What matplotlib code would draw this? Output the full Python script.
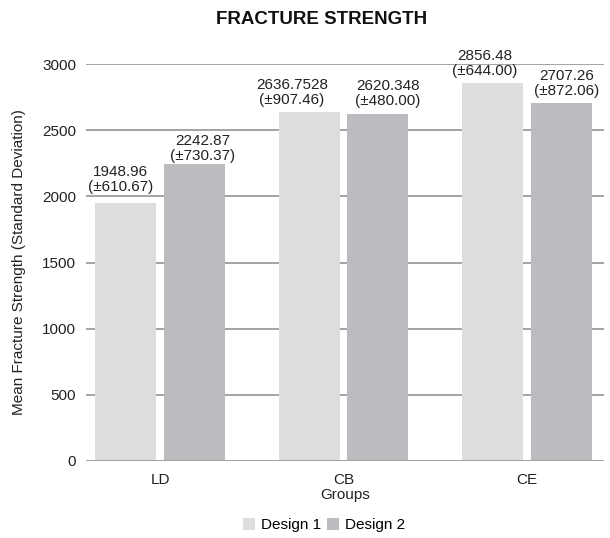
import matplotlib.pyplot as plt
import numpy as np

plt.rcParams['font.family'] = ['Liberation Sans', 'DejaVu Sans']

groups = ["LD", "CB", "CE"]
design1 = [1948.96, 2636.7528, 2856.48]
design2 = [2242.87, 2620.348, 2707.26]
design1_txt = ["1948.96", "2636.7528", "2856.48"]
design2_txt = ["2242.87", "2620.348", "2707.26"]
design1_sd = ["610.67", "907.46", "644.00"]
design2_sd = ["730.37", "480.00", "872.06"]
yticks = [0, 500, 1000, 1500, 2000, 2500, 3000]

# label nudges in pixels (dx, gap above bar), as placed in the original
nudge1 = [(-5, 9), (-17, 5), (-8, 5)]
nudge2 = [(8, 1), (10, 6), (5, 5)]

c1 = "#dcdddf"
c2 = "#bbbcbf"
txt = "#222222"
fs = 11

fig = plt.figure(figsize=(6.1, 5.38), dpi=100)
ax = fig.add_axes([86 / 610, 1 - 461 / 538, 518 / 610, 397 / 538])

x = np.arange(len(groups))
w = 61 / 183.5
off = 34.5 / 183.5

b1 = ax.bar(x - off, design1, w, color=c1, label="Design 1", zorder=3)
b2 = ax.bar(x + off, design2, w, color=c2, label="Design 2", zorder=3)

px = 72 / 100  # pixels -> points
for bars, vals, sds, nud in [(b1, design1_txt, design1_sd, nudge1),
                             (b2, design2_txt, design2_sd, nudge2)]:
    for r, v, s, (dx, dy) in zip(bars, vals, sds, nud):
        ax.annotate(f"{v}\n(±{s})", (r.get_x() + r.get_width() / 2, r.get_height()),
                    xytext=(dx * px, dy * px), textcoords="offset points",
                    ha="center", va="bottom", fontsize=fs, linespacing=1.1,
                    color=txt, zorder=4)

ax.set_xlim(-74 / 183.5, 444 / 183.5)
ax.set_ylim(0, 3000)
ax.set_yticks(yticks)
ax.set_xticks(x)
ax.set_xticklabels(groups)
ax.yaxis.grid(True, color="#a3a3a3", linewidth=1.4, zorder=0)
ax.set_axisbelow(True)
for sp in ax.spines.values():
    sp.set_visible(False)
ax.axhline(0, color="#a3a3a3", linewidth=1.4, zorder=5)
ax.tick_params(axis="both", length=0, labelsize=fs, colors=txt)
ax.tick_params(axis="y", pad=7)
ax.tick_params(axis="x", pad=9)
ax.set_xlabel("Groups", fontsize=fs, color=txt, labelpad=0)
ax.set_ylabel("Mean Fracture Strength (Standard Deviation)", fontsize=fs, color=txt, labelpad=12)

fig.text(322 / 610, 1 - 20 / 538, "FRACTURE STRENGTH", ha="center", va="center",
         fontsize=13.5, fontweight="bold", color="#111111")

fig.legend(handles=[b1, b2], loc="center", bbox_to_anchor=(324 / 610, 1 - 525 / 538),
           ncol=2, frameon=False, fontsize=fs, handlelength=0.8, handleheight=0.8,
           handletextpad=0.35, columnspacing=0.4)

fig.savefig("out.png", dpi=100)
